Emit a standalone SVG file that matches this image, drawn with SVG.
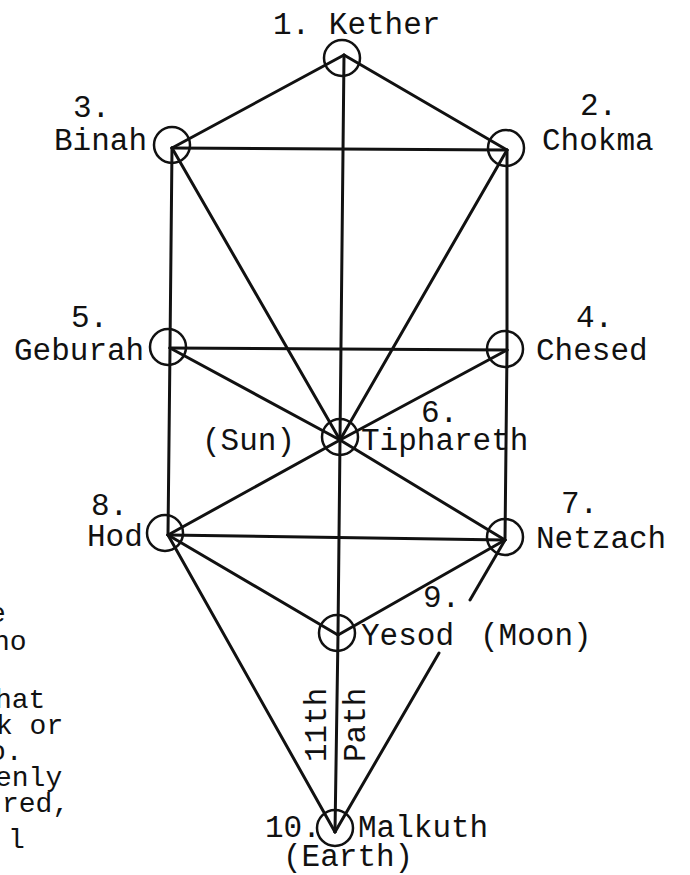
<svg xmlns="http://www.w3.org/2000/svg" width="690" height="875" viewBox="0 0 690 875">
<style>
text{font-family:"Liberation Mono","Courier New",monospace;font-size:31px;fill:#111}
.mg{font-size:28px}
.ln{stroke:#111;stroke-width:3;stroke-linecap:round;fill:none}
.nd{stroke:#111;stroke-width:2.5;fill:none}
</style>
<rect width="690" height="875" fill="#fff"/>
<g id="connectors">
<line class="ln" x1="344" y1="55" x2="507" y2="150"/>
<line class="ln" x1="344" y1="55" x2="172" y2="148"/>
<line class="ln" x1="344" y1="55" x2="340" y2="440"/>
<line class="ln" x1="172" y1="148" x2="507" y2="150"/>
<line class="ln" x1="172" y1="148" x2="170" y2="348"/>
<line class="ln" x1="170" y1="348" x2="168" y2="535"/>
<line class="ln" x1="507" y1="150" x2="507" y2="350"/>
<line class="ln" x1="507" y1="350" x2="505" y2="540"/>
<line class="ln" x1="172" y1="148" x2="340" y2="440"/>
<line class="ln" x1="507" y1="150" x2="340" y2="440"/>
<line class="ln" x1="170" y1="348" x2="507" y2="350"/>
<line class="ln" x1="170" y1="348" x2="340" y2="440"/>
<line class="ln" x1="507" y1="350" x2="340" y2="440"/>
<line class="ln" x1="168" y1="535" x2="340" y2="440"/>
<line class="ln" x1="505" y1="540" x2="340" y2="440"/>
<line class="ln" x1="168" y1="535" x2="505" y2="540"/>
<line class="ln" x1="168" y1="535" x2="338" y2="635"/>
<line class="ln" x1="505" y1="540" x2="338" y2="635"/>
<line class="ln" x1="340" y1="440" x2="338" y2="635"/>
<line class="ln" x1="168" y1="535" x2="335" y2="832"/>
<line class="ln" x1="505" y1="540" x2="470" y2="600"/>
<line class="ln" x1="439" y1="653" x2="335" y2="832"/>
<line class="ln" x1="338" y1="635" x2="335" y2="832"/>
</g>
<g id="n1"><circle class="nd" cx="342" cy="58" r="18"/><text x="273" y="34">1. Kether</text></g>
<g id="n2"><circle class="nd" cx="506" cy="148" r="18"/><text x="580" y="115">2.</text><text x="542" y="150">Chokma</text></g>
<g id="n3"><circle class="nd" cx="172" cy="145" r="18"/><text x="73" y="117">3.</text><text x="54" y="150">Binah</text></g>
<g id="n4"><circle class="nd" cx="505" cy="349" r="18"/><text x="576" y="327">4.</text><text x="536" y="360">Chesed</text></g>
<g id="n5"><circle class="nd" cx="168" cy="347" r="18"/><text x="71" y="327">5.</text><text x="14" y="360">Geburah</text></g>
<g id="n6"><circle class="nd" cx="340" cy="437" r="18"/><text x="421" y="422">6.</text><text x="202" y="450">(Sun)</text><text x="361" y="450">Tiphareth</text></g>
<g id="n7"><circle class="nd" cx="505" cy="537" r="18"/><text x="561" y="513">7.</text><text x="536" y="548">Netzach</text></g>
<g id="n8"><circle class="nd" cx="165" cy="533" r="18"/><text x="91" y="515">8.</text><text x="87" y="546">Hod</text></g>
<g id="n9"><circle class="nd" cx="337" cy="633" r="18"/><text x="423" y="607">9.</text><text x="361" y="645">Yesod<tspan x="480">(Moon)</tspan></text></g>
<g id="n10"><circle class="nd" cx="335" cy="828" r="18"/><text x="265" y="837">10.</text><text x="358" y="837">Malkuth</text><text x="283" y="866">(Earth)</text></g>
<g id="path11">
<text transform="translate(326,762) rotate(-90)">11th</text>
<text transform="translate(365,762) rotate(-90)">Path</text>
</g>
<g id="margin-text" class="mg">
<text class="mg" x="-11" y="622">e</text>
<text class="mg" x="-7" y="650">ho</text>
<text class="mg" x="-5" y="708">hat</text>
<text class="mg" x="-4" y="734">k or</text>
<text class="mg" x="-11" y="760">o.</text>
<text class="mg" x="-5" y="786">enly</text>
<text class="mg" x="2" y="812">red,</text>
<text class="mg" x="8" y="848">l</text>
</g>
</svg>
